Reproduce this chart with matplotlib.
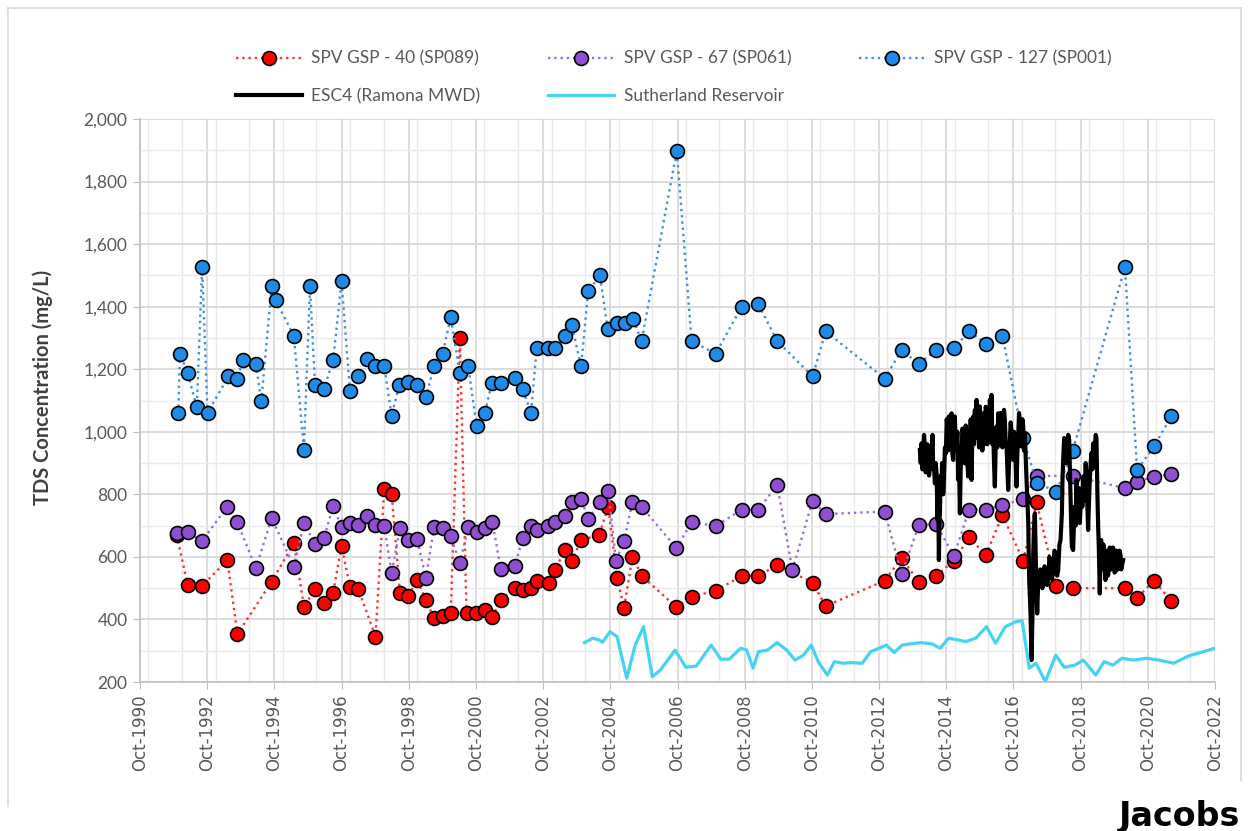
import matplotlib.pyplot as plt
from matplotlib.ticker import MultipleLocator, FuncFormatter
from matplotlib.lines import Line2D

# sample dates are decimal years, TDS in mg/L
sp089_dates = [1991.84, 1992.17, 1992.60, 1993.35, 1993.65, 1994.67, 1995.33, 1995.63, 1995.96,
               1996.23, 1996.50, 1996.75, 1997.00, 1997.25, 1997.76, 1998.02, 1998.24, 1998.49,
               1998.74, 1999.00, 1999.26, 1999.50, 1999.76, 2000.00, 2000.27, 2000.47, 2000.75,
               2001.02, 2001.24, 2001.49, 2001.91, 2002.14, 2002.39, 2002.56, 2002.93, 2003.10,
               2003.40, 2003.60, 2003.88, 2004.42, 2004.69, 2004.95, 2005.16, 2005.41, 2005.68,
               2006.72, 2007.17, 2007.89, 2008.66, 2009.15, 2009.72, 2010.77, 2011.16, 2012.92,
               2013.42, 2013.93, 2014.44, 2014.98, 2015.43, 2015.93, 2016.42, 2017.04, 2017.44,
               2018.03, 2018.51, 2020.07, 2020.43, 2020.93, 2021.45]
sp089_tds = [670, 510, 507, 590, 353, 521, 644, 441, 497,
             452, 486, 635, 505, 497, 345, 817, 802, 484,
             475, 526, 462, 404, 412, 420, 1300, 420, 422,
             430, 407, 462, 500, 494, 500, 524, 516, 558,
             622, 587, 654, 670, 761, 532, 438, 601, 540,
             439, 473, 492, 539, 539, 574, 518, 443, 524,
             597, 520, 539, 588, 662, 606, 734, 588, 774,
             507, 500, 500, 468, 524, 460]

sp061_dates = [1991.84, 1992.17, 1992.60, 1993.35, 1993.65, 1994.20, 1994.67, 1995.33, 1995.63,
               1995.96, 1996.23, 1996.50, 1996.75, 1997.00, 1997.25, 1997.50, 1997.76, 1998.02,
               1998.24, 1998.49, 1998.74, 1999.00, 1999.26, 1999.50, 1999.76, 2000.00, 2000.27,
               2000.52, 2000.77, 2001.02, 2001.24, 2001.49, 2001.91, 2002.14, 2002.39, 2002.56,
               2002.90, 2003.10, 2003.40, 2003.60, 2003.88, 2004.09, 2004.44, 2004.69, 2004.92,
               2005.16, 2005.41, 2005.68, 2006.72, 2007.17, 2007.89, 2008.66, 2009.15, 2009.72,
               2010.17, 2010.77, 2011.16, 2012.92, 2013.42, 2013.93, 2014.44, 2014.98, 2015.43,
               2015.93, 2016.42, 2017.04, 2017.44, 2018.51, 2020.06, 2020.44, 2020.94, 2021.45]
sp061_tds = [676, 678, 651, 761, 710, 564, 724, 569, 708,
             641, 660, 763, 694, 708, 702, 731, 702, 699,
             548, 692, 654, 657, 532, 694, 692, 667, 580,
             694, 681, 692, 711, 561, 571, 660, 699, 686,
             699, 710, 731, 777, 785, 721, 777, 811, 587,
             651, 777, 761, 628, 711, 699, 751, 751, 829,
             558, 779, 737, 745, 544, 701, 705, 603, 751,
             751, 766, 785, 859, 859, 820, 841, 857, 865]

sp001_dates = [1991.89, 1991.94, 1992.17, 1992.44, 1992.60, 1992.76, 1993.38, 1993.65, 1993.81,
               1994.20, 1994.36, 1994.67, 1994.79, 1995.33, 1995.63, 1995.81, 1995.96, 1996.23,
               1996.50, 1996.75, 1997.00, 1997.25, 1997.50, 1997.76, 1998.02, 1998.24, 1998.47,
               1998.74, 1999.00, 1999.26, 1999.50, 1999.76, 2000.00, 2000.27, 2000.52, 2000.77,
               2001.02, 2001.22, 2001.49, 2001.91, 2002.14, 2002.39, 2002.56, 2002.90, 2003.10,
               2003.40, 2003.60, 2003.88, 2004.09, 2004.44, 2004.67, 2004.94, 2005.18, 2005.43,
               2005.68, 2006.73, 2007.17, 2007.89, 2008.66, 2009.15, 2009.72, 2010.77, 2011.16,
               2012.92, 2013.42, 2013.93, 2014.44, 2014.98, 2015.43, 2015.93, 2016.42, 2017.04,
               2017.44, 2018.03, 2018.51, 2020.07, 2020.43, 2020.93, 2021.45]
sp001_tds = [1060, 1250, 1188, 1078, 1527, 1060, 1177, 1169, 1230,
             1217, 1097, 1467, 1420, 1307, 942, 1467, 1150, 1138,
             1230, 1481, 1129, 1179, 1233, 1211, 1211, 1051, 1150,
             1158, 1150, 1110, 1209, 1250, 1367, 1188, 1211, 1017,
             1060, 1156, 1156, 1172, 1137, 1060, 1268, 1268, 1268,
             1307, 1342, 1209, 1449, 1500, 1330, 1348, 1348, 1361,
             1289, 1899, 1289, 1250, 1400, 1409, 1290, 1177, 1321,
             1170, 1261, 1217, 1261, 1267, 1321, 1282, 1307, 980,
             836, 809, 937, 1527, 878, 953, 1049]

# ESC4 (Ramona MWD) readings: (decimal year, TDS)
esc4_readings = [
    (2013.965, 942), (2013.990, 900), (2014.015, 963), (2014.040, 880), (2014.064, 931),
    (2014.089, 990), (2014.114, 953), (2014.139, 870), (2014.164, 910), (2014.188, 960),
    (2014.213, 953), (2014.238, 860), (2014.263, 889), (2014.287, 940), (2014.312, 921),
    (2014.342, 990), (2014.362, 880), (2014.382, 899), (2014.412, 835), (2014.436, 900),
    (2014.461, 867), (2014.491, 718), (2014.511, 800), (2014.531, 590), (2014.545, 700),
    (2014.560, 739), (2014.585, 860), (2014.610, 814), (2014.625, 900), (2014.640, 889),
    (2014.660, 800), (2014.680, 846), (2014.710, 950), (2014.739, 931), (2014.764, 1040),
    (2014.789, 1006), (2014.808, 940), (2014.828, 1049), (2014.853, 960), (2014.878, 953),
    (2014.893, 1045), (2014.908, 1059), (2014.932, 930), (2014.957, 910), (2014.982, 1030),
    (2015.007, 1049), (2015.031, 940), (2015.056, 953), (2015.081, 1000), (2015.106, 846),
    (2015.131, 900), (2015.156, 739), (2015.180, 880), (2015.205, 931), (2015.230, 1010),
    (2015.255, 995), (2015.280, 920), (2015.304, 899), (2015.329, 1020), (2015.354, 985),
    (2015.379, 900), (2015.404, 857), (2015.428, 990), (2015.453, 953), (2015.478, 1040),
    (2015.503, 846), (2015.528, 1000), (2015.553, 1049), (2015.577, 960), (2015.602, 1070),
    (2015.627, 990), (2015.652, 1102), (2015.676, 980), (2015.701, 1038), (2015.726, 950),
    (2015.751, 1081), (2015.776, 970), (2015.801, 1027), (2015.825, 940), (2015.850, 1059),
    (2015.875, 960), (2015.900, 1017), (2015.925, 1080), (2015.949, 1070), (2015.974, 960),
    (2015.999, 1038), (2016.024, 990), (2016.049, 1102), (2016.073, 1000), (2016.098, 1118),
    (2016.123, 960), (2016.148, 1006), (2016.172, 900), (2016.197, 825), (2016.222, 960),
    (2016.247, 1017), (2016.272, 950), (2016.297, 1059), (2016.321, 960), (2016.346, 995),
    (2016.371, 1060), (2016.396, 1049), (2016.420, 950), (2016.445, 1017), (2016.470, 1070),
    (2016.495, 1038), (2016.520, 960), (2016.545, 953), (2016.569, 880), (2016.594, 814),
    (2016.619, 900), (2016.644, 974), (2016.668, 1030), (2016.693, 995), (2016.718, 930),
    (2016.743, 910), (2016.768, 1000), (2016.793, 974), (2016.817, 900), (2016.842, 825),
    (2016.867, 930), (2016.892, 985), (2016.916, 1060), (2016.941, 1027), (2016.966, 960),
    (2016.991, 953), (2017.016, 1040), (2017.041, 1017), (2017.065, 940), (2017.090, 995),
    (2017.140, 846), (2017.189, 718), (2017.219, 526), (2017.259, 419), (2017.289, 270),
    (2017.318, 419), (2017.338, 600), (2017.358, 686), (2017.388, 739), (2017.418, 579),
    (2017.457, 419), (2017.487, 520), (2017.517, 505), (2017.550, 560), (2017.586, 547),
    (2017.610, 500), (2017.636, 515), (2017.675, 570), (2017.715, 558), (2017.750, 510),
    (2017.785, 526), (2017.820, 600), (2017.854, 590), (2017.890, 530), (2017.934, 547),
    (2017.970, 620), (2018.013, 611), (2018.050, 540), (2018.082, 558), (2018.120, 640),
    (2018.152, 654), (2018.172, 700), (2018.192, 739), (2018.211, 850), (2018.231, 910),
    (2018.260, 980), (2018.291, 963), (2018.320, 900), (2018.350, 921), (2018.380, 990),
    (2018.410, 974), (2018.430, 880), (2018.449, 793), (2018.470, 700), (2018.489, 633),
    (2018.527, 622), (2018.550, 700), (2018.576, 761), (2018.600, 700), (2018.626, 846),
    (2018.650, 780), (2018.676, 761), (2018.700, 820), (2018.725, 708), (2018.750, 760),
    (2018.775, 814), (2018.800, 760), (2018.824, 857), (2018.850, 780), (2018.874, 814),
    (2018.900, 900), (2018.924, 857), (2018.950, 760), (2018.973, 686), (2019.000, 780),
    (2019.023, 846), (2019.050, 900), (2019.072, 932), (2019.100, 880), (2019.122, 963),
    (2019.150, 900), (2019.172, 953), (2019.200, 990), (2019.221, 980), (2019.251, 793),
    (2019.271, 700), (2019.291, 633), (2019.320, 483), (2019.340, 600), (2019.360, 654),
    (2019.380, 560), (2019.400, 569), (2019.425, 640), (2019.449, 612), (2019.470, 560),
    (2019.489, 526), (2019.515, 620), (2019.539, 601), (2019.565, 540), (2019.588, 558),
    (2019.615, 630), (2019.638, 622), (2019.665, 560), (2019.688, 580), (2019.715, 630),
    (2019.737, 612), (2019.760, 550), (2019.787, 553), (2019.810, 620), (2019.836, 601),
    (2019.860, 560), (2019.886, 569), (2019.910, 620), (2019.936, 606), (2019.960, 560),
    (2019.985, 574), (2020.015, 590),
]
esc4_dates = [d for d, v in esc4_readings]
esc4_tds = [v for d, v in esc4_readings]

sutherland_dates = [2003.98, 2004.23, 2004.43, 2004.52, 2004.74, 2004.95, 2005.24, 2005.49, 2005.74,
                    2006.00, 2006.24, 2006.68, 2007.00, 2007.31, 2007.75, 2008.04, 2008.29, 2008.63,
                    2008.81, 2009.00, 2009.16, 2009.43, 2009.71, 2010.00, 2010.25, 2010.50, 2010.73,
                    2010.94, 2011.21, 2011.42, 2011.69, 2011.94, 2012.25, 2012.50, 2012.75, 2012.97,
                    2013.20, 2013.44, 2013.69, 2014.00, 2014.32, 2014.57, 2014.82, 2015.13, 2015.32,
                    2015.63, 2015.95, 2016.22, 2016.51, 2016.83, 2017.01, 2017.22, 2017.42, 2017.70,
                    2018.01, 2018.26, 2018.58, 2018.83, 2019.20, 2019.45, 2019.71, 2019.98, 2020.33,
                    2020.71, 2021.08, 2021.52, 2021.96, 2022.40, 2022.75]
sutherland_tds = [326, 340, 334, 327, 361, 345, 212, 318, 377,
                  217, 238, 302, 247, 251, 318, 273, 273, 308,
                  302, 244, 297, 302, 326, 302, 270, 286, 318,
                  265, 222, 265, 260, 262, 260, 297, 308, 318,
                  294, 318, 322, 326, 322, 308, 340, 334, 329,
                  340, 377, 324, 377, 393, 396, 244, 260, 201,
                  286, 247, 254, 270, 222, 265, 254, 276, 270,
                  276, 270, 260, 283, 297, 308]

tick_years = list(range(1990, 2023, 2))

gray_txt = "#595959"

fig = plt.figure(figsize=(12.5, 8.31), dpi=100)
ax = fig.add_axes([0.112, 0.1793, 0.86, 0.6775])

ax.plot(sp089_dates, sp089_tds, ls=":", lw=1.7, color="#ff3030", marker="o", ms=10,
        mfc="#ff0000", mec="black", mew=1.2, label="SPV GSP - 40 (SP089)")
ax.plot(sp061_dates, sp061_tds, ls=":", lw=1.7, color="#9a6fd6", marker="o", ms=10,
        mfc="#8f4fd0", mec="black", mew=1.2, label="SPV GSP - 67 (SP061)")
ax.plot(sp001_dates, sp001_tds, ls=":", lw=1.7, color="#3f8fe6", marker="o", ms=10,
        mfc="#1f8ae8", mec="black", mew=1.2, label="SPV GSP - 127 (SP001)")
ax.plot(esc4_dates, esc4_tds, color="black", lw=3.0, label="ESC4 (Ramona MWD)")
ax.plot(sutherland_dates, sutherland_tds, color="#45d3f3", lw=2.3, label="Sutherland Reservoir")

# axes and grid
ax.set_xlim(1990.75, 2022.75)
ax.set_ylim(200, 2000)
ax.set_xticks([y + 0.75 for y in tick_years])
ax.set_xticklabels([f"Oct-{y}" for y in tick_years], rotation=90,
                   fontsize=12, color=gray_txt, family="DejaVu Sans")
ax.xaxis.set_minor_locator(MultipleLocator(1))
ax.yaxis.set_major_locator(MultipleLocator(200))
ax.yaxis.set_minor_locator(MultipleLocator(100))
ax.yaxis.set_major_formatter(FuncFormatter(lambda v, p: f"{v:,.0f}"))
for lab in ax.get_yticklabels():
    lab.set_family("Lato")
    lab.set_fontsize(12.5)
    lab.set_color(gray_txt)

ax.grid(which="major", color="#d6d6d6", lw=1.2)
ax.grid(which="minor", color="#eaeaea", lw=1.0)
ax.set_axisbelow(True)
for s in ["top", "right"]:
    ax.spines[s].set_visible(False)
for s in ["left", "bottom"]:
    ax.spines[s].set_color("#bfbfbf")
    ax.spines[s].set_linewidth(1.2)
ax.tick_params(which="major", length=5, color="#bfbfbf", pad=4)
ax.tick_params(which="minor", length=0)

fig.text(43 / 1250, 0.534, "TDS Concentration (mg/L)", rotation=90, ha="center", va="center",
         fontsize=14.5, fontweight="bold", color="#404040", family="Lato")

# legend in row order: two rows, three columns
h, l = ax.get_legend_handles_labels()
order = [0, 3, 1, 4, 2]
fig.legend([h[i] for i in order], [l[i] for i in order], loc="upper left",
           bbox_to_anchor=(0.176, 0.958), ncol=3, frameon=False,
           prop={"family": "Lato", "size": 12.5}, labelcolor=gray_txt,
           handlelength=3.8, handletextpad=0.55, columnspacing=3.9, labelspacing=1.25)

fig.text(0.992, 0.006, "Jacobs", ha="right", va="baseline", fontsize=24,
         fontweight="bold", color="black", family="DejaVu Sans")

# light frame around the chart
frame_col = "#d9d9d9"
fig.add_artist(Line2D([0.006, 0.006], [0.03, 0.99], color=frame_col, lw=1.2))
fig.add_artist(Line2D([0.006, 0.993], [0.99, 0.99], color=frame_col, lw=1.2))
fig.add_artist(Line2D([0.993, 0.993], [0.06, 0.99], color=frame_col, lw=1.2))

fig.savefig("out.png", dpi=100)
